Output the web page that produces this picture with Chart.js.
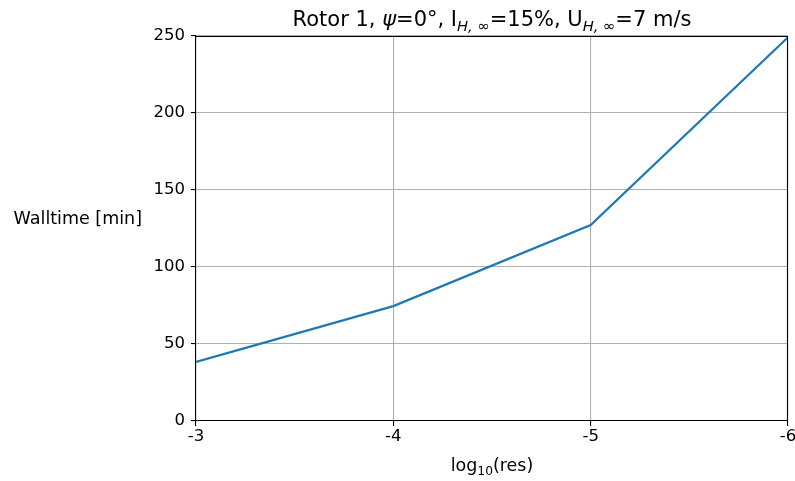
<!DOCTYPE html>
<html>
<head>
<meta charset="utf-8">
<script src="https://cdn.jsdelivr.net/npm/chart.js@4"></script>
<style>
  html, body { margin: 0; padding: 0; background: #fff; }
  #wrap { width: 795px; height: 481px; }
</style>
</head>
<body>
<div id="wrap"><canvas id="chart" width="795" height="481"></canvas></div>
<script>
// values
const logRes = [-3, -4, -5, -6]
const walltime = [38.3, 74.6, 127.2, 249.2]
const yTicks = [0, 50, 100, 150, 200, 250]

const FONT = "'DejaVu Sans', sans-serif"
const TICK_SIZE = 16.5
const LABEL_SIZE = 17.5

// draws a list of text pieces, some italic or subscripted, centred at x
const drawRich = (ctx, parts, cx, y, size) => {
  const fontFor = (p) => `${p.italic ? "italic " : ""}${p.sub ? size * 0.7 : size}px ${FONT}`
  let total = 0
  parts.forEach(p => { ctx.font = fontFor(p); total += ctx.measureText(p.t).width })
  let x = cx - total / 2
  ctx.textAlign = "left"
  ctx.textBaseline = "alphabetic"
  parts.forEach(p => {
    ctx.font = fontFor(p)
    ctx.fillText(p.t, x, p.sub ? y + size * 0.22 : y)
    x += ctx.measureText(p.t).width
  })
}

const titleParts = [
  {t: "Rotor 1, "}, {t: "ψ", italic: true}, {t: "=0°, I"},
  {t: "H, ∞", italic: true, sub: true}, {t: "=15%, U"},
  {t: "H, ∞", italic: true, sub: true}, {t: "=7 m/s"}
]
const xLabelParts = [{t: "log"}, {t: "10", sub: true}, {t: "(res)"}]

const decorations = {
  id: "decorations",
  afterDraw(chart) {
    const {ctx, chartArea: a} = chart
    ctx.save()
    // top and right spines
    ctx.strokeStyle = "#000"
    ctx.lineWidth = 1.1
    ctx.beginPath()
    ctx.moveTo(a.left, a.top + 0.5)
    ctx.lineTo(a.right - 0.5, a.top + 0.5)
    ctx.lineTo(a.right - 0.5, a.bottom)
    ctx.stroke()
    ctx.fillStyle = "#000"
    const cx = (a.left + a.right) / 2
    drawRich(ctx, titleParts, cx, 26, 21)
    drawRich(ctx, xLabelParts, cx, 471, LABEL_SIZE)
    ctx.font = `${LABEL_SIZE}px ${FONT}`
    ctx.textAlign = "right"
    ctx.textBaseline = "middle"
    ctx.fillText("Walltime [min]", 142, 219)
    ctx.restore()
  }
}

new Chart(document.getElementById("chart"), {
  type: "line",
  data: {
    datasets: [{
      data: logRes.map((x, i) => ({x, y: walltime[i]})),
      borderColor: "#1f77b4",
      borderWidth: 2.2,
      pointRadius: 0,
      tension: 0
    }]
  },
  options: {
    responsive: false,
    animation: false,
    layout: {padding: {top: 36, right: 7, left: 0, bottom: 0}},
    plugins: {legend: {display: false}, tooltip: {enabled: false}},
    scales: {
      x: {
        type: "linear",
        reverse: true,
        min: -6,
        max: -3,
        afterBuildTicks: (s) => { s.ticks = logRes.map(v => ({value: v})) },
        afterFit: (s) => { s.height = 60; s.paddingRight = 0; s.paddingLeft = 0 },
        ticks: {color: "#000", font: {family: FONT, size: TICK_SIZE}, padding: 1, maxRotation: 0,
          callback: (v) => String(v)},
        grid: {color: "#b0b0b0", tickColor: "#000", tickLength: 5, lineWidth: 1.1},
        border: {color: "#000", width: 1.1}
      },
      y: {
        min: 0,
        max: 250,
        afterBuildTicks: (s) => { s.ticks = yTicks.map(v => ({value: v})) },
        afterFit: (s) => { s.width = 196 },
        ticks: {color: "#000", font: {family: FONT, size: TICK_SIZE}, padding: 6},
        grid: {color: "#b0b0b0", tickColor: "#000", tickLength: 5, lineWidth: 1.1},
        border: {color: "#000", width: 1.1}
      }
    }
  },
  plugins: [decorations]
})
</script>
</body>
</html>
